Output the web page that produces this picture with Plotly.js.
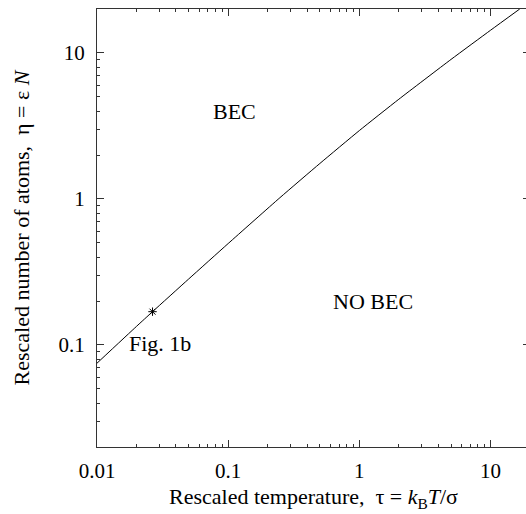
<!DOCTYPE html>
<html>
<head>
<meta charset="utf-8">
<script src="https://cdn.plot.ly/plotly-3.0.1.min.js"></script>
<style>html,body{margin:0;padding:0;overflow:hidden;background:#fff;}</style>
</head>
<body>
<div id="chart" style="width:540px;height:514px;"></div>
<script>
// Phase boundary (critical line)
const tau = [0.01, 0.02, 0.0265, 0.05, 0.1, 0.248, 0.5, 1, 2, 5, 10, 16.7];
const eta = [0.075, 0.134, 0.169, 0.283, 0.495, 1.02, 1.75, 2.94, 4.82, 9.03, 14.3, 20];
// Marked point (Fig. 1b)
const markTau = [0.0265];
const markEta = [0.169];
// Region labels
const labelText = ["BEC", "NO BEC", "Fig. 1b"];
const labelTau = [0.112, 1.27, 0.0301];
const labelEta = [3.95, 0.198, 0.103];
// Ticks
const xTickVals = [0.01, 0.1, 1, 10];
const xTickText = ["0.01", "0.1", "1", "10"];
const yTickVals = [0.1, 1, 10];
const yTickText = ["0.1", "1", "10"];

const font = "Liberation Serif, Times New Roman, serif";

const traces = [
  {x: tau, y: eta, mode: "lines", type: "scatter", line: {color: "#000", width: 1, shape: "spline", smoothing: 0.5}, hoverinfo: "skip"},
  {x: markTau, y: markEta, mode: "markers", type: "scatter",
   marker: {symbol: "asterisk-open", size: 7, color: "#000", line: {color: "#000", width: 1}}}
];

const annotations = labelText.map((t, i) => ({
  x: Math.log10(labelTau[i]), y: Math.log10(labelEta[i]), xref: "x", yref: "y",
  text: t, showarrow: false, font: {family: font, size: 22, color: "#000"}
}));

const axisCommon = {
  type: "log", showgrid: false, zeroline: false, showline: true, linecolor: "#333", linewidth: 1,
  mirror: "ticks", ticks: "inside", ticklen: 7, tickwidth: 1, tickcolor: "#333",
  tickfont: {family: font, size: 21, color: "#000"},
  minor: {ticks: "inside", ticklen: 3, tickwidth: 1, tickcolor: "#333", dtick: "D1", showgrid: false}
};

const layout = {
  width: 540, height: 514,
  margin: {l: 97, r: 10, t: 9, b: 67},
  paper_bgcolor: "#fff", plot_bgcolor: "#fff",
  showlegend: false,
  font: {family: font, color: "#000"},
  xaxis: Object.assign({}, axisCommon, {
    range: [-2, Math.log10(20)], tickvals: xTickVals, ticktext: xTickText,
    ticklabelstandoff: 5,
    title: {text: "Rescaled temperature,  τ = <i>k</i><sub>B</sub><i>T</i>/σ", font: {family: font, size: 22, color: "#000"}, standoff: 6}
  }),
  yaxis: Object.assign({}, axisCommon, {
    range: [Math.log10(0.02), Math.log10(20)], tickvals: yTickVals, ticktext: yTickText,
    ticklabelstandoff: 7,
    title: {text: "Rescaled number of atoms,  η = ε <i>N</i>", font: {family: font, size: 22, color: "#000"}, standoff: 22}
  }),
  annotations: annotations
};

Plotly.newPlot("chart", traces, layout, {staticPlot: true, displayModeBar: false});
</script>
</body>
</html>
